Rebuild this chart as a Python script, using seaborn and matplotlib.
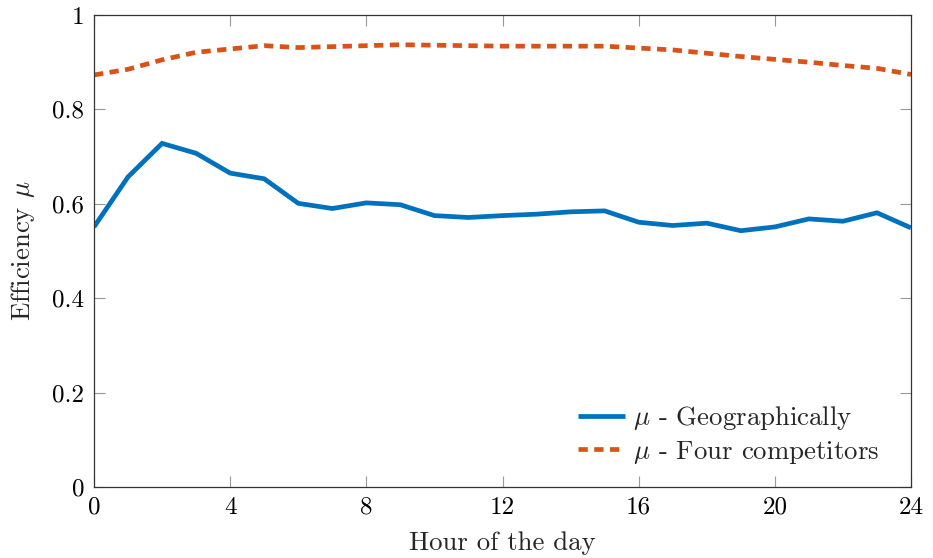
import matplotlib
matplotlib.use("Agg")
import matplotlib.pyplot as plt
import seaborn as sns
import pandas as pd

hours = list(range(25))
geo = [0.551, 0.657, 0.728, 0.707, 0.665, 0.653, 0.601, 0.590, 0.602, 0.598,
       0.575, 0.571, 0.575, 0.578, 0.583, 0.585, 0.561, 0.554, 0.559, 0.543,
       0.551, 0.568, 0.563, 0.581, 0.549]
four = [0.873, 0.885, 0.905, 0.921, 0.928, 0.935, 0.931, 0.933, 0.935, 0.937,
        0.936, 0.935, 0.934, 0.934, 0.934, 0.934, 0.930, 0.926, 0.919, 0.912,
        0.906, 0.900, 0.893, 0.887, 0.874]
x_ticks = [0, 4, 8, 12, 16, 20, 24]
x_tick_labels = ["0", "4", "8", "12", "16", "20", "24"]
y_ticks = [0, 0.2, 0.4, 0.6, 0.8, 1.0]
y_tick_labels = ["0", "0.2", "0.4", "0.6", "0.8", "1"]
label_geo = r"$\mu$ - Geographically"
label_four = r"$\mu$ - Four competitors"

sns.set_style("ticks")
plt.rcParams["font.family"] = ["cmr10", "DejaVu Serif"]
plt.rcParams["mathtext.fontset"] = "cm"
plt.rcParams["axes.formatter.use_mathtext"] = True

FS_TICK = 18
FS = 19.3
LW = 3.4

df = pd.DataFrame({"hour": hours, "geo": geo, "four": four})

fig = plt.figure(figsize=(9.33, 5.58), dpi=100)
ax = fig.add_axes([94/933, 1-487/558, (911-94)/933, (487-15)/558])

sns.lineplot(data=df, x="hour", y="geo", ax=ax, color="#0072BD", linewidth=LW,
             label=label_geo, solid_capstyle="butt", solid_joinstyle="miter")
sns.lineplot(data=df, x="hour", y="four", ax=ax, color="#D95319", linewidth=LW,
             linestyle=(0, (1.97, 1.36)), dash_capstyle="butt", label=label_four)

ax.set_xlim(0, 24)
ax.set_ylim(0, 1)
ax.set_xticks(x_ticks)
ax.set_xticklabels(x_tick_labels)
ax.set_yticks(y_ticks)
ax.set_yticklabels(y_tick_labels)
ax.tick_params(direction="in", length=8, width=0.8, color="#999999",
               top=True, right=True, labelsize=FS_TICK, pad=7, labelcolor="black")
for s in ax.spines.values():
    s.set_visible(True)
    s.set_color("#333333")
    s.set_linewidth(0.9)

ax.set_xlabel("Hour of the day", fontsize=FS, labelpad=9)
ax.set_ylabel(r"Efficiency $\mu$", fontsize=FS, labelpad=11)

leg = ax.legend(loc="lower right", frameon=False, fontsize=FS, handlelength=1.75,
                handletextpad=0.3, labelspacing=0.25, bbox_to_anchor=(0.991, -0.006))

fig.savefig("out.png", dpi=100)
